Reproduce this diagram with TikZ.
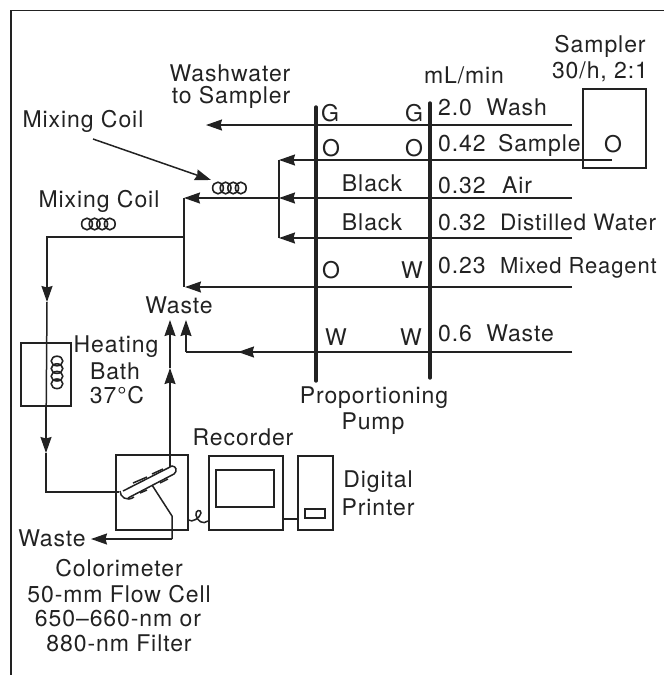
\documentclass[tikz,border=0pt]{standalone}
\usepackage{fontspec}
\setmainfont[LetterSpace=4]{TeX Gyre Heros}
\usetikzlibrary{arrows.meta}
\definecolor{ink}{HTML}{222222}
\tikzset{
 x=1pt,y=-1pt,
 wire/.style={line width=1.5pt,draw=ink},
 flow/.style={wire,-{Stealth[length=16pt,width=11pt,inset=1.5pt]}},
 tube/.style={line width=3.4pt,draw=ink,line cap=round},
 box/.style={line width=1.5pt,draw=ink},
 lab/.style={text=ink,font=\fontsize{23}{27}\selectfont,inner sep=0pt},
 coilr/.style={line width=1.6pt,draw=ink}
}
\newcommand{\hcoil}[2]{\foreach \k in {0,1,2,3}{\draw[coilr] (#1+\k*7.6,#2) ellipse [x radius=5.4,y radius=5.8];}}
\newcommand{\vcoil}[2]{\foreach \k in {0,1,2,3}{\draw[coilr] (#1,#2+\k*7.6) ellipse [x radius=5.8,y radius=4.8];}}
\begin{document}
\begin{tikzpicture}
\useasboundingbox (0,0) rectangle (664,675);
% frame
\coordinate (ftl) at (11,10.5); \coordinate (ftr) at (664,10.5); \coordinate (fbl) at (11,675);
\draw[box] (fbl) -- (ftl) -- (ftr);
% pump tubes
\coordinate (p1t) at (316,107); \coordinate (p1b) at (316,381);
\coordinate (p2t) at (430,103); \coordinate (p2b) at (430,378);
\draw[tube] (p1t) -- (p1b);
\draw[tube] (p2t) -- (p2b);
% sampler
\node[box,draw,minimum width=63pt,minimum height=79pt,inner sep=0pt,anchor=north west] (sampler) at (582,88) {};
\node[lab] (samt) at (600,46) {Sampler};
\node[lab] (samr) at (600,72) {30/h, 2:1};
\node[lab] (samo) at (613,144) {O};
% coordinates of wires
\coordinate (wR) at (572,125); \coordinate (wL) at (206,125);
\coordinate (sR) at (612,160); \coordinate (sL) at (279,160);
\coordinate (aR) at (572,198); \coordinate (aL) at (279,198);
\coordinate (dR) at (572,238); \coordinate (dL) at (279,238);
\coordinate (mR) at (572,287); \coordinate (mL) at (185,287);
\coordinate (rR) at (572,352); \coordinate (rK) at (186,352); \coordinate (rT) at (186,320); \coordinate (rM) at (238,352);
\coordinate (jT) at (184,198); \coordinate (jB) at (184,287); \coordinate (jM) at (184,237);
\coordinate (lT) at (47,237); \coordinate (lA) at (47,302);
\coordinate (lB) at (46,453); \coordinate (lC) at (46,492); \coordinate (lS) at (47,280);
\draw[flow] (wR) -- (wL);
\draw[flow] (sR) -- (sL);
\draw[flow] (aR) -- (aL);
\draw[flow] (dR) -- (dL);
\draw[flow] (mR) -- (mL);
\draw[flow] (rR) -- (rM);
\draw[wire] (rR) -- (rK);
\draw[flow] (rK) -- (rT);
\draw[wire] (sL) -- (dL);
\draw[flow] (aL) -- (jT);
\draw[wire] (jT) -- (jB);
\draw[wire] (jM) -- (lT) -- (lS);
\draw[flow] (lS) -- (lA);
% mixing coils
\hcoil{218}{188}
\hcoil{87}{224}
\node[lab] (mc1) at (83,121) {Mixing Coil};
\node[lab] (mc2) at (99,201) {Mixing Coil};
\coordinate (mcp) at (93,139); \coordinate (mct) at (211,180);
\draw[flow] (mcp) -- (mct);
% heating bath
\node[box,draw,minimum width=50pt,minimum height=63pt,inner sep=0pt,anchor=north west] (bath) at (20,342) {};
\vcoil{57}{361}
\coordinate (bA) at (46,437);
\draw[wire] (lA) -- (bA);
\draw[flow] (bA|-bath.south) -- (lB);
\node[lab] (h1) at (116,347) {Heating};
\node[lab] (h2) at (115,371) {Bath};
\node[lab] (h3) at (117,395) {37°C};
% colorimeter
\node[box,draw,minimum width=72pt,minimum height=75pt,inner sep=0pt,anchor=north west] (colo) at (115,454) {};
\coordinate (cIn) at (119,492);
\draw[wire] (lB) -- (lC) -- (cIn);
% flow cell
\coordinate (fa) at (123,491); \coordinate (fb) at (172,466); \coordinate (fc) at (128,498); \coordinate (fd) at (174,474);
\draw[wire] (fa) -- (fb) .. controls (176,466) and (178,471) .. (fd) -- (fc);
\draw[wire] (120,491) .. controls (120,497) and (127,502) .. (134,497);
\coordinate (d1a) at (133,483); \coordinate (d1b) at (147,477); \coordinate (d1c) at (152,474); \coordinate (d1d) at (163,469);
\coordinate (d2a) at (140,493); \coordinate (d2b) at (147,490); \coordinate (d2c) at (160,483); \coordinate (d2d) at (168,479);
\draw[wire] (d1a) -- (d1b);
\draw[wire] (d1c) -- (d1d);
\draw[wire] (d2a) -- (d2b);
\draw[wire] (d2c) -- (d2d);
% exit up
\coordinate (uB) at (170,467); \coordinate (uM) at (170,383); \coordinate (uA) at (170,368); \coordinate (uT) at (170,320);
\draw[wire] (uB) -- (uM);
\draw[flow] (uM) -- (uA);
\draw[flow] (uA) -- (uT);
% exit left
\coordinate (tS) at (152,485); \coordinate (tB) at (172,516); \coordinate (tC) at (172,539); \coordinate (tD) at (91,539);
\draw[wire] (tS) -- (tB) -- (tC);
\draw[flow] (tC) -- (tD);
% recorder
\node[box,draw,minimum width=74pt,minimum height=74pt,inner sep=0pt,anchor=north west] (rec) at (208,455) {};
\node[box,draw,minimum width=58pt,minimum height=37pt,inner sep=0pt,anchor=north west] (screen) at (215,469) {};
\node[box,draw,minimum width=35pt,minimum height=74pt,inner sep=0pt,anchor=north west] (prn) at (297,455) {};
\node[box,draw,minimum width=20pt,minimum height=9pt,inner sep=0pt,anchor=north west] (slot) at (304,508) {};
\draw[wire] (rec.east|-0,519) -- (prn.west|-0,519);
\draw[wire] (colo.east|-0,520) .. controls (192,523) and (200,518) .. (201,513) .. controls (201,509) and (195,510) .. (196,515) .. controls (197,521) and (203,525) .. (rec.west|-0,521);
% labels
\node[lab] (rl) at (243,437) {Recorder};
\node[lab] (dg) at (378,482) {Digital};
\node[lab] (pt) at (378,507) {Printer};
\node[lab] (wl) at (52,538) {Waste};
\node[lab] (c1) at (119,568) {Colorimeter};
\node[lab] (c2) at (119,594) {50-mm Flow Cell};
\node[lab] (c3) at (118,619) {650–660-nm or};
\node[lab] (c4) at (119,643) {880-nm Filter};
\node[lab] (wu) at (179,305) {Waste};
\node[lab] (pp1) at (374,398) {Proportioning};
\node[lab] (pp2) at (373,424) {Pump};
\node[lab] (ws1) at (230,73) {Washwater};
\node[lab] (ws2) at (231,97) {to Sampler};
\node[lab] (ml) at (464,75) {mL/min};
\node[lab] (g1) at (330,113) {G};
\node[lab] (g2) at (414,113) {G};
\node[lab] (o1) at (331,148) {O};
\node[lab] (o2) at (414,148) {O};
\node[lab] (b1) at (372,183) {Black};
\node[lab] (b2) at (372,222) {Black};
\node[lab] (o3) at (331,270) {O};
\node[lab] (w3) at (412,270) {W};
\node[lab] (w4) at (336,337) {W};
\node[lab] (w5) at (411,337) {W};
\node[lab,anchor=west] (r1) at (438,107) {2.0\hspace{7pt} Wash};
\node[lab,anchor=west] (r2) at (438,145) {0.42\hspace{5pt} Sample};
\node[lab,anchor=west] (r3) at (438,185) {0.32\hspace{9pt} Air};
\node[lab,anchor=west] (r4) at (438,222) {0.32\hspace{7pt} \fontsize{22.6}{26}\selectfont Distilled Water};
\node[lab,anchor=west] (r5) at (438,268) {0.23\hspace{7pt} \fontsize{22}{26}\selectfont Mixed Reagent};
\node[lab,anchor=west] (r6) at (438,333) {0.6\hspace{7pt} Waste};
\end{tikzpicture}
\end{document}
